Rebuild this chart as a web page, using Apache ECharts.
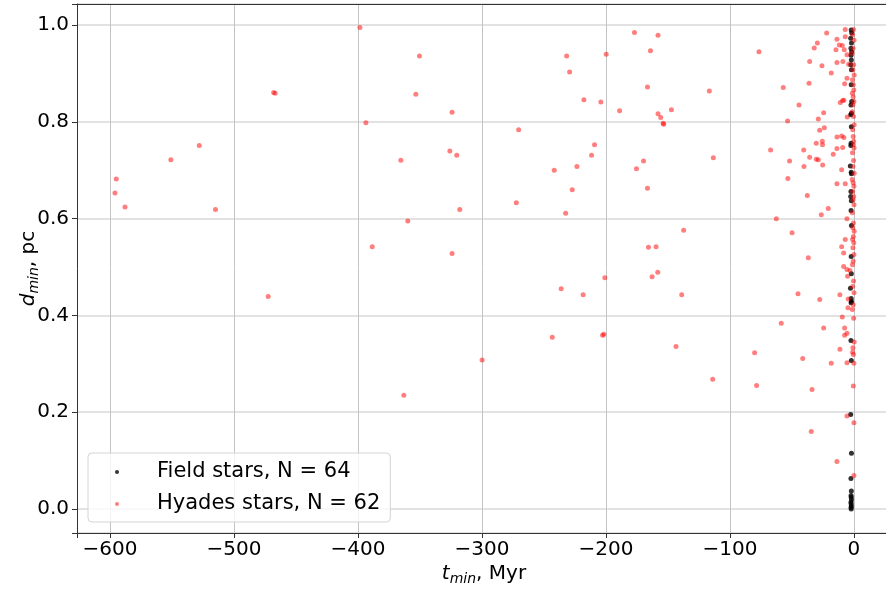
<!DOCTYPE html>
<html>
<head>
<meta charset="utf-8">
<script src="https://cdn.jsdelivr.net/npm/echarts@6/dist/echarts.min.js"></script>
<style>
  html, body { margin: 0; padding: 0; background: #fff; }
  #chart { width: 886px; height: 590px; }
</style>
</head>
<body>
<div id="chart"></div>
<script>
// 坐标轴范围
const tRange = [-626.6, 29.9]
const dRange = [-0.0497, 1.0437]

// Field stars (black)
const fieldT = [
  -2.2, -1.8, -2.6, -2.0, -2.4, -1.9, -2.3, -2.1, -2.5, -2.0,
  -2.2, -1.8, -2.4, -2.0, -2.6, -2.1, -2.3, -2.5, -2.9, -2.2,
  -2.0, -2.4, -2.6, -2.1, -2.3, -2.0, -2.2, -2.1, -2.8, -2.2,
  -2.0, -2.3, -2.4, -2.1, -2.6, -2.0, -2.4, -2.1, -2.3, -2.2,
  -2.0, -2.4, -2.2, -2.1, -2.3, -2.2
]
const fieldD = [
  0.990, 0.984, 0.973, 0.963, 0.952, 0.945, 0.938, 0.928, 0.918, 0.908,
  0.877, 0.842, 0.835, 0.818, 0.815, 0.790, 0.756, 0.751, 0.709, 0.696,
  0.693, 0.656, 0.646, 0.637, 0.617, 0.586, 0.522, 0.486, 0.456, 0.435,
  0.429, 0.426, 0.348, 0.307, 0.195, 0.115, 0.063, 0.037, 0.028, 0.024,
  0.019, 0.014, 0.010, 0.006, 0.003, 0.000
]

// Hyades stars (red)
const hyadesT = [
  -594.9, -596.0, -587.9, -550.9, -528.0, -514.9, -468.0, -466.8, -472.4,
  -398.4, -350.4, -353.3, -393.6, -365.4, -359.8, -388.5, -363.0,
  -177.0, -158.0, -164.1, -76.6, -231.7, -199.8, -229.3, -166.5, -116.6, -57.0,
  -217.8, -204.1, -189.0, -147.2, -158.0, -155.8, -153.9, -153.4, -324.1, -53.5,
  -270.4, -209.2, -325.9, -320.3, -67.2, -211.6, -113.4, -169.7, -223.4, -175.4,
  -241.7, -51.9, -53.3, -227.2, -166.5, -317.9, -272.3, -232.5, -62.6, -137.3,
  -165.7, -159.6, -324.1, -200.9, -158.2, -162.8, -236.1, -218.4, -138.9, -58.6,
  -202.7, -201.7, -243.3, -143.5, -80.1, -299.9, -113.9, -78.5,
  -22.0, -7.0, -7.0, -13.7, -29.5, -32.0, -14.5, -11.8, -9.4, -7.8, -5.6,
  -35.7, -25.8, -13.7, -8.9, -4.3, -18.3, -5.6, -7.5, -36.2, -44.3, -24.4,
  -28.7, -11.0, -9.1, -8.1, -5.4, -23.9, -27.6, -13.7, -9.9, -8.1, -30.4, -25.5,
  -0.4, -1.1, 0.1, -0.7, -1.5, -0.2, -0.9, 0.2, -1.2, -0.5, -0.1,
  -1.3, -0.6, 0.0, -0.8, -1.4, -0.3, 0.2, -1.0, -0.6, -0.2,
  -25.3, -40.5, -13.7, -9.1, -35.7, -30.4, -28.7, -25.2, -16.7, -40.3, -9.9,
  -13.7, -7.0, -37.6, -20.7, -26.3, -5.6, -49.9, -7.0, -9.9, -8.3, -36.8, -8.3,
  -0.5, 0.1, -1.2, -0.3, -0.8, 0.2, -1.4, -0.6, 0.0, -1.0, -0.2, -0.7,
  0.1, -1.3, -0.4, -0.9, 0.2, -0.5, -1.1, -0.1, -0.8, 0.0, -0.6, -1.2,
  -5.6, -3.2, -5.1, -45.1, -27.6, -11.3, -4.6, -4.8, -9.4, -24.4, -7.5,
  -5.6, -7.5, -11.3, -41.3, -18.3, -5.6, -33.8,
  -0.3, -1.0, 0.1, -0.6, -1.3, -0.2, 0.2, -0.8, -1.1, -0.4, 0.0, -0.5,
  -5.6, 0.0, -34.4, -13.7, 0.0
]
const hyadesD = [
  0.682, 0.653, 0.624, 0.722, 0.751, 0.619, 0.861, 0.859, 0.439,
  0.995, 0.936, 0.857, 0.798, 0.721, 0.595, 0.542, 0.235,
  0.985, 0.979, 0.947, 0.945, 0.936, 0.940, 0.903, 0.872, 0.864, 0.871,
  0.846, 0.841, 0.823, 0.825, 0.817, 0.809, 0.797, 0.795, 0.820, 0.802,
  0.784, 0.753, 0.740, 0.731, 0.742, 0.731, 0.726, 0.719, 0.708, 0.703,
  0.700, 0.719, 0.683, 0.660, 0.663, 0.619, 0.633, 0.611, 0.600, 0.576,
  0.541, 0.542, 0.528, 0.478, 0.489, 0.480, 0.455, 0.443, 0.443, 0.384,
  0.359, 0.361, 0.355, 0.336, 0.323, 0.308, 0.268, 0.255,
  0.984, 0.991, 0.976, 0.971, 0.963, 0.953, 0.949, 0.959, 0.958, 0.949, 0.939,
  0.925, 0.916, 0.923, 0.925, 0.919, 0.901, 0.890, 0.879, 0.880, 0.835, 0.819,
  0.806, 0.840, 0.844, 0.845, 0.810, 0.788, 0.783, 0.769, 0.771, 0.768, 0.756, 0.760,
  0.991, 0.980, 0.969, 0.952, 0.942, 0.918, 0.908, 0.897, 0.887, 0.877, 0.866,
  0.859, 0.852, 0.842, 0.835, 0.821, 0.811, 0.794, 0.784, 0.770, 0.760,
  0.753, 0.742, 0.745, 0.747, 0.727, 0.723, 0.722, 0.711, 0.733, 0.708, 0.701,
  0.672, 0.672, 0.648, 0.621, 0.608, 0.600, 0.571, 0.557, 0.542, 0.529, 0.519, 0.501,
  0.753, 0.746, 0.736, 0.720, 0.708, 0.694, 0.681, 0.674, 0.667, 0.656, 0.646, 0.639,
  0.629, 0.612, 0.591, 0.581, 0.574, 0.563, 0.557, 0.550, 0.540, 0.526, 0.512, 0.505,
  0.495, 0.493, 0.481, 0.445, 0.433, 0.443, 0.434, 0.416, 0.397, 0.374, 0.374,
  0.363, 0.359, 0.330, 0.311, 0.301, 0.302, 0.247,
  0.471, 0.460, 0.447, 0.422, 0.412, 0.394, 0.345, 0.333, 0.324, 0.319, 0.301, 0.254,
  0.192, 0.178, 0.160, 0.098, 0.069
]

const seriesNames = ['Field stars, N = 64', 'Hyades stars, N = 62']

const FONT = 'DejaVu Sans'
const zip = (xs, ys) => xs.map((x, i) => [x, ys[i]])
const minus = s => String(s).replace('-', '\u2212')

// 轴名：斜体 + 下标
const nameRich = {
  i: { fontFamily: FONT, fontSize: 20, fontStyle: 'italic', color: '#000' },
  s: { fontFamily: FONT, fontSize: 14, fontStyle: 'italic', color: '#000', padding: [10, 0, 0, 0] },
  n: { fontFamily: FONT, fontSize: 20, color: '#000' }
}

const axisLine = { show: true, onZero: false, lineStyle: { color: '#333', width: 1 } }

const chart = echarts.init(document.getElementById('chart'), null, { renderer: 'canvas' })
chart.setOption({
  animation: false,
  backgroundColor: '#fff',
  grid: { left: 77, right: -5, top: 4, bottom: 57, containLabel: false, outerBoundsMode: 'none' },
  legend: {
    orient: 'vertical',
    left: 88,
    top: 453,
    data: seriesNames,
    icon: 'circle',
    itemWidth: 4,
    itemHeight: 4,
    itemGap: 8,
    padding: [7, 10, 6, 27],
    backgroundColor: 'rgba(255,255,255,0.8)',
    borderColor: '#d4d4d4',
    borderWidth: 1,
    borderRadius: 4,
    textStyle: { fontFamily: FONT, fontSize: 21, color: '#000', lineHeight: 24, padding: [0, 0, 0, 33] }
  },
  xAxis: [
    {
      type: 'value',
      min: tRange[0],
      max: tRange[1],
      splitNumber: 6,
      axisLine: axisLine,
      axisTick: { show: true, length: 5, lineStyle: { color: '#333' } },
      axisLabel: {
        margin: 7,
        fontFamily: FONT, fontSize: 20, color: '#000',
        formatter: v => (Math.abs(v % 100) < 1e-6 ? minus(v) : '')
      },
      splitLine: { show: true, lineStyle: { color: '#c4c4c4', width: 1 } },
      name: '{i|t}{s|min}{n|, Myr}',
      nameLocation: 'middle',
      nameGap: 29,
      nameMoveOverlap: false,
      nameTextStyle: { rich: nameRich }
    },
    {
      type: 'value',
      position: 'top',
      min: tRange[0],
      max: tRange[1],
      axisLine: axisLine,
      axisTick: { show: false },
      axisLabel: { show: false },
      splitLine: { show: false }
    }
  ],
  yAxis: {
    type: 'value',
    min: dRange[0],
    max: dRange[1],
    splitNumber: 5,
    axisLine: axisLine,
    axisTick: { show: true, length: 5, lineStyle: { color: '#333' } },
    axisLabel: {
      margin: 8,
      fontFamily: FONT, fontSize: 20, color: '#000',
      formatter: v => {
        const k = v * 5
        return Math.abs(k - Math.round(k)) < 1e-6 ? minus(v.toFixed(1)) : ''
      }
    },
    splitLine: { show: true, lineStyle: { color: '#d8d8d8', width: 1.5 } },
    name: '{i|d}{s|min}{n|, pc}',
    nameLocation: 'middle',
    nameRotate: 90,
    nameGap: 36,
    nameMoveOverlap: false,
    nameTextStyle: { rich: nameRich }
  },
  series: [
    {
      name: seriesNames[0],
      type: 'scatter',
      xAxisIndex: 0,
      symbolSize: 5,
      itemStyle: { color: '#000' },
      data: zip(fieldT, fieldD)
    },
    {
      name: seriesNames[1],
      type: 'scatter',
      xAxisIndex: 0,
      symbolSize: 5,
      itemStyle: { color: '#ff0000', opacity: 0.5 },
      data: zip(hyadesT, hyadesD)
    }
  ]
})
</script>
</body>
</html>
